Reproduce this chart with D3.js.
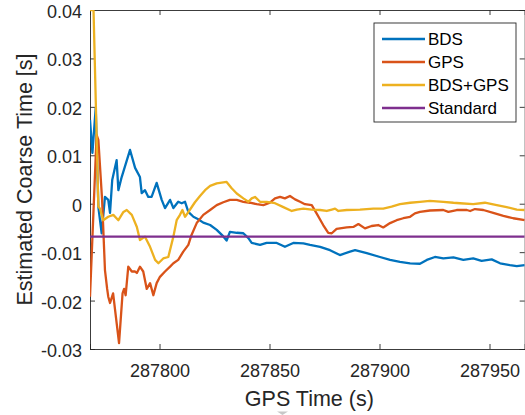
<!DOCTYPE html>
<html>
<head>
<meta charset="utf-8">
<script src="https://cdn.jsdelivr.net/npm/d3@7"></script>
<style>
    body { margin: 0; background: #fff; }
    svg { display: block; font-family: Arial, "Liberation Sans", sans-serif; }
</style>
</head>
<body>
<div id="chart"></div>
<script>
// series: [GPS time (s), estimated coarse time (s)]
const bdsData = [
    [287768.4, 0.0173], [287769.5, 0.0105], [287771.0, 0.0198], [287772.2, -0.0007],
    [287773.7, -0.0061], [287775.2, 0.0014], [287776.7, 0.0008], [287777.5, -0.0019],
    [287778.5, 0.0049], [287780.5, 0.0090], [287781.3, 0.0028], [287782.8, 0.0055],
    [287786.6, 0.0111], [287788.9, 0.0074], [287791.1, 0.0055], [287791.9, 0.0022],
    [287793.4, 0.0028], [287794.9, 0.0014], [287796.4, 0.0014], [287798.7, 0.0043],
    [287801.0, 0.0008], [287802.5, -0.0009], [287804.8, 0.0008], [287806.3, -0.0009],
    [287808.5, 0.0004], [287810.1, 0.0001], [287811.6, 0.0004], [287813.1, -0.0017],
    [287815.4, -0.0027], [287817.6, -0.0032], [287819.9, -0.0039], [287823.0, -0.0044],
    [287826.0, -0.0054], [287828.9, -0.0067], [287830.5, -0.0076], [287832.0, -0.0058],
    [287835.1, -0.0060], [287838.1, -0.0061], [287840.4, -0.0071], [287841.9, -0.0081],
    [287845.7, -0.0085], [287848.7, -0.0081], [287853.3, -0.0081], [287857.0, -0.0089],
    [287860.8, -0.0081], [287865.4, -0.0082], [287868.4, -0.0085], [287873.0, -0.0089],
    [287877.5, -0.0096], [287882.0, -0.0106], [287886.6, -0.0099], [287888.9, -0.0096],
    [287894.2, -0.0102], [287900.2, -0.0110], [287904.8, -0.0116], [287909.3, -0.0120],
    [287913.9, -0.0123], [287918.4, -0.0124], [287921.5, -0.0116], [287925.2, -0.0110],
    [287929.0, -0.0113], [287933.6, -0.0111], [287938.1, -0.0116], [287942.6, -0.0113],
    [287946.4, -0.0118], [287951.0, -0.0115], [287954.8, -0.0123], [287959.3, -0.0127],
    [287962.4, -0.0129], [287966.0, -0.0127]
];

const gpsData = [
    [287768.4, -0.0192], [287771.4, 0.0142], [287772.2, 0.0132], [287773.9, 0.0008],
    [287775.2, -0.0137], [287776.2, -0.0176], [287776.7, -0.0192], [287777.5, -0.0205],
    [287778.9, -0.0185], [287781.6, -0.0288], [287783.2, -0.0185], [287783.9, -0.0176],
    [287784.6, -0.0189], [287785.8, -0.0130], [287787.4, -0.0140], [287788.9, -0.0140],
    [287789.7, -0.0143], [287791.1, -0.0130], [287792.6, -0.0140], [287794.2, -0.0176],
    [287795.7, -0.0164], [287797.2, -0.0189], [287798.7, -0.0164], [287800.2, -0.0151],
    [287802.5, -0.0140], [287804.8, -0.0130], [287806.3, -0.0123], [287808.5, -0.0116],
    [287810.8, -0.0099], [287813.1, -0.0085], [287814.5, -0.0065], [287816.9, -0.0040],
    [287819.9, -0.0023], [287823.0, -0.0013], [287826.0, -0.0003], [287829.0, 0.0003],
    [287832.0, 0.0008], [287835.1, 0.0008], [287838.1, 0.0004], [287841.1, 0.0002],
    [287844.2, -0.0001], [287847.2, -0.0003], [287850.2, 0.0002], [287852.5, 0.0011],
    [287854.8, 0.0014], [287857.0, 0.0011], [287859.3, 0.0016], [287861.6, 0.0009],
    [287863.9, 0.0004], [287866.1, -0.0001], [287869.2, -0.0003], [287871.4, -0.0020],
    [287874.4, -0.0044], [287876.7, -0.0060], [287878.3, -0.0061], [287880.5, -0.0052],
    [287885.1, -0.0049], [287888.1, -0.0048], [287890.4, -0.0042], [287893.4, -0.0051],
    [287896.4, -0.0046], [287899.4, -0.0044], [287901.7, -0.0049], [287904.8, -0.0040],
    [287907.8, -0.0034], [287910.8, -0.0030], [287913.9, -0.0027], [287916.1, -0.0020],
    [287918.4, -0.0017], [287922.9, -0.0014], [287929.0, -0.0013], [287931.3, -0.0017],
    [287935.1, -0.0013], [287939.7, -0.0013], [287941.2, -0.0015], [287943.4, -0.0011],
    [287947.2, -0.0013], [287951.7, -0.0019], [287956.3, -0.0025], [287960.8, -0.0030],
    [287966.0, -0.0034]
];

const bdsGpsData = [
    [287768.4, 0.0400], [287770.0, 0.0400], [287772.2, -0.0006], [287772.9, -0.0010],
    [287774.4, -0.0034], [287776.7, -0.0027], [287779.0, -0.0023], [287781.3, -0.0034],
    [287783.6, -0.0017], [287785.1, -0.0013], [287787.4, -0.0023], [287789.7, -0.0048],
    [287791.1, -0.0075], [287793.4, -0.0068], [287795.7, -0.0089], [287798.0, -0.0116],
    [287799.5, -0.0123], [287801.7, -0.0113], [287804.0, -0.0110], [287806.3, -0.0068],
    [287807.8, -0.0034], [287809.3, -0.0023], [287810.4, -0.0013], [287811.6, -0.0027],
    [287813.9, -0.0012], [287816.1, 0.0003], [287818.4, 0.0016], [287820.7, 0.0028],
    [287823.0, 0.0037], [287826.0, 0.0042], [287829.0, 0.0044], [287830.5, 0.0045],
    [287832.8, 0.0032], [287835.1, 0.0021], [287838.1, 0.0011], [287840.4, 0.0004],
    [287841.9, 0.0011], [287843.4, 0.0014], [287845.7, 0.0004], [287848.7, 0.0004],
    [287852.5, 0.0001], [287856.3, -0.0007], [287860.1, -0.0015], [287862.4, -0.0012],
    [287865.4, -0.0010], [287869.2, -0.0012], [287873.0, -0.0013], [287876.0, -0.0015],
    [287878.3, -0.0012], [287879.8, -0.0010], [287881.3, -0.0015], [287885.1, -0.0013],
    [287891.1, -0.0012], [287897.2, -0.0010], [287901.7, -0.0010], [287905.5, -0.0006],
    [287909.3, -0.0001], [287913.9, 0.0002], [287918.4, 0.0004], [287922.9, 0.0006],
    [287929.0, 0.0004], [287933.6, 0.0002], [287936.6, 0.0001], [287942.6, -0.0001],
    [287947.9, 0.0002], [287953.3, -0.0003], [287957.8, -0.0007], [287962.4, -0.0012],
    [287966.0, -0.0013]
];

const standardValue = -0.0068;
const standardData = [[287768.4, standardValue], [287966.0, standardValue]];

const seriesNames = ["BDS", "GPS", "BDS+GPS", "Standard"];
const seriesColors = ["#0072BD", "#D95319", "#EDB120", "#7E2F8E"];
const allSeries = [bdsData, gpsData, bdsGpsData, standardData];

const xDomain = [287768.4, 287966.0];
const yDomain = [-0.03, 0.04];
const xTicks = [287800, 287850, 287900, 287950];
const yTicks = [-0.03, -0.02, -0.01, 0, 0.01, 0.02, 0.03, 0.04];

const width = 525;
const height = 415;
const margin = { top: 10, right: 0.3, bottom: 66, left: 90 };
const plotW = width - margin.left - margin.right;
const plotH = height - margin.top - margin.bottom;
const axisColor = "#262626";

const svg = d3.select("#chart")
    .append("svg")
    .attr("width", width)
    .attr("height", height);

const x = d3.scaleLinear().domain(xDomain).range([0, plotW]);
const y = d3.scaleLinear().domain(yDomain).range([plotH, 0]);

const g = svg.append("g")
    .attr("transform", "translate(" + margin.left + "," + margin.top + ")");

g.append("clipPath")
    .attr("id", "plotClip")
    .append("rect")
    .attr("width", plotW)
    .attr("height", plotH);

// matlab style labels: plain hyphen, bare 0
const tickFmt = d => d === 0 ? "0" : d3.format(".2f")(d).replace("\u2212", "-");

// inward ticks on all four sides, like matlab's box on
const bottomAxis = g.append("g")
    .attr("transform", "translate(0," + plotH + ")")
    .call(d3.axisBottom(x).tickValues(xTicks).tickSize(-5).tickPadding(15).tickFormat(d3.format("d")));
const topAxis = g.append("g")
    .call(d3.axisTop(x).tickValues(xTicks).tickSize(-5).tickFormat(""));
const leftAxis = g.append("g")
    .call(d3.axisLeft(y).tickValues(yTicks).tickSize(-5).tickPadding(8).tickFormat(tickFmt));
const rightAxis = g.append("g")
    .attr("transform", "translate(" + plotW + ",0)")
    .call(d3.axisRight(y).tickValues(yTicks).tickSize(-5).tickFormat(""));

[bottomAxis, topAxis, leftAxis, rightAxis].forEach(function(a) {
    a.select(".domain").attr("stroke", axisColor).attr("stroke-width", 0.9);
    a.selectAll(".tick line").attr("stroke", axisColor).attr("stroke-width", 0.9);
    a.selectAll(".tick text")
        .attr("fill", axisColor)
        .attr("font-size", 18)
        .attr("font-family", "Arial, 'Liberation Sans', sans-serif");
});
bottomAxis.selectAll(".tick text").attr("dy", "0.71em");
leftAxis.selectAll(".tick text").attr("dy", "0.42em");

// lines
const line = d3.line()
    .x(d => x(d[0]))
    .y(d => y(d[1]));

g.append("g")
    .attr("clip-path", "url(#plotClip)")
    .selectAll("path")
    .data(allSeries)
    .enter()
    .append("path")
    .attr("d", line)
    .attr("fill", "none")
    .attr("stroke", (d, i) => seriesColors[i])
    .attr("stroke-width", 2.3)
    .attr("stroke-linejoin", "round");

// axis titles
svg.append("text")
    .attr("x", margin.left + plotW / 2 + 2)
    .attr("y", 406)
    .attr("text-anchor", "middle")
    .attr("font-size", 21.5)
    .attr("fill", axisColor)
    .text("GPS Time (s)");

svg.append("text")
    .attr("transform", "translate(32," + (margin.top + plotH / 2) + ") rotate(-90)")
    .attr("text-anchor", "middle")
    .attr("font-size", 21.5)
    .attr("fill", axisColor)
    .text("Estimated Coarse Time [s]");

// legend
const legend = svg.append("g").attr("transform", "translate(374,23)");
legend.append("rect")
    .attr("width", 142)
    .attr("height", 99)
    .attr("fill", "#fff")
    .attr("stroke", axisColor)
    .attr("stroke-width", 0.9);

const item = legend.selectAll(".item")
    .data(seriesNames)
    .enter()
    .append("g")
    .attr("class", "item")
    .attr("transform", (d, i) => "translate(0," + (16 + i * 23) + ")");

item.append("line")
    .attr("x1", 8)
    .attr("x2", 51)
    .attr("stroke", (d, i) => seriesColors[i])
    .attr("stroke-width", 2.3);

item.append("text")
    .attr("x", 54)
    .attr("dy", "0.36em")
    .attr("font-size", 17)
    .attr("fill", "#000")
    .text(d => d);

// little grey marker under the x label
svg.append("path")
    .attr("d", "M277,411.5 L288,411.5 L282.5,415 Z")
    .attr("fill", "#c8c8c8");
</script>
</body>
</html>
